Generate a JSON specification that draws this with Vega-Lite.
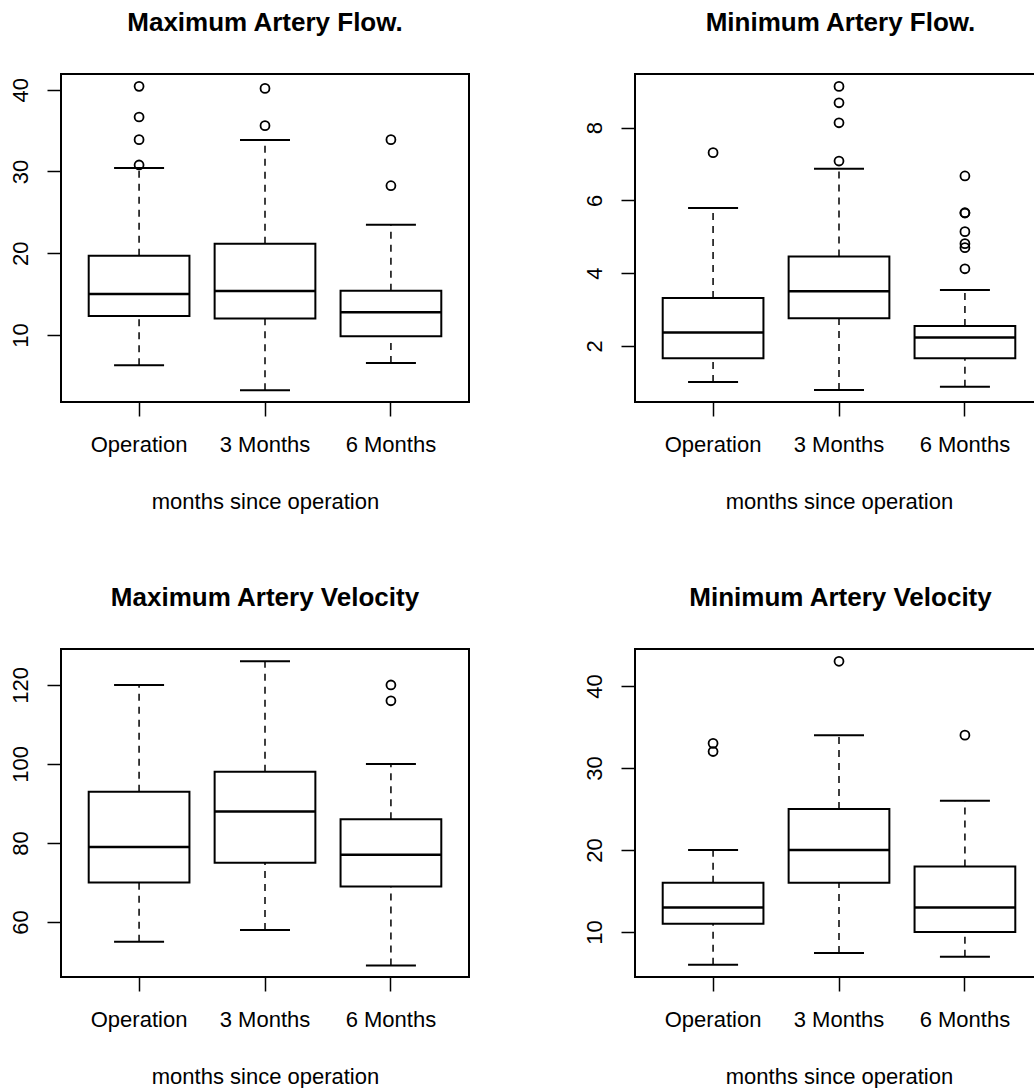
{
  "$schema": "https://vega.github.io/schema/vega-lite/v6.json",
  "background": "white",
  "padding": {"left": 8, "top": 9, "right": 0, "bottom": 0},
  "datasets": {
    "stats": [
      {"panel": "maxflow", "group": "Operation", "lo": 6.29, "q1": 12.32, "med": 15.0, "q3": 19.7, "hi": 30.42},
      {"panel": "maxflow", "group": "3 Months", "lo": 3.23, "q1": 12.0, "med": 15.38, "q3": 21.17, "hi": 33.84},
      {"panel": "maxflow", "group": "6 Months", "lo": 6.57, "q1": 9.83, "med": 12.77, "q3": 15.42, "hi": 23.49},
      {"panel": "minflow", "group": "Operation", "lo": 1.01, "q1": 1.66, "med": 2.37, "q3": 3.32, "hi": 5.79},
      {"panel": "minflow", "group": "3 Months", "lo": 0.79, "q1": 2.76, "med": 3.5, "q3": 4.46, "hi": 6.87},
      {"panel": "minflow", "group": "6 Months", "lo": 0.88, "q1": 1.66, "med": 2.23, "q3": 2.55, "hi": 3.54},
      {"panel": "maxvel", "group": "Operation", "lo": 55, "q1": 70, "med": 79, "q3": 93, "hi": 120},
      {"panel": "maxvel", "group": "3 Months", "lo": 58, "q1": 75, "med": 88, "q3": 98, "hi": 126},
      {"panel": "maxvel", "group": "6 Months", "lo": 49, "q1": 69, "med": 77, "q3": 86, "hi": 100},
      {"panel": "minvel", "group": "Operation", "lo": 6, "q1": 11, "med": 13, "q3": 16, "hi": 20},
      {"panel": "minvel", "group": "3 Months", "lo": 7.44, "q1": 16, "med": 20, "q3": 25, "hi": 34},
      {"panel": "minvel", "group": "6 Months", "lo": 7, "q1": 10, "med": 13, "q3": 18, "hi": 26}
    ],
    "outliers": [
      {"panel": "maxflow", "group": "Operation", "value": 40.41},
      {"panel": "maxflow", "group": "Operation", "value": 36.66},
      {"panel": "maxflow", "group": "Operation", "value": 33.89},
      {"panel": "maxflow", "group": "Operation", "value": 30.79},
      {"panel": "maxflow", "group": "3 Months", "value": 40.16},
      {"panel": "maxflow", "group": "3 Months", "value": 35.6},
      {"panel": "maxflow", "group": "6 Months", "value": 33.89},
      {"panel": "maxflow", "group": "6 Months", "value": 28.26},
      {"panel": "minflow", "group": "Operation", "value": 7.31},
      {"panel": "minflow", "group": "3 Months", "value": 9.13},
      {"panel": "minflow", "group": "3 Months", "value": 8.68},
      {"panel": "minflow", "group": "3 Months", "value": 8.13},
      {"panel": "minflow", "group": "3 Months", "value": 7.08},
      {"panel": "minflow", "group": "6 Months", "value": 6.67},
      {"panel": "minflow", "group": "6 Months", "value": 5.65},
      {"panel": "minflow", "group": "6 Months", "value": 5.66},
      {"panel": "minflow", "group": "6 Months", "value": 5.14},
      {"panel": "minflow", "group": "6 Months", "value": 4.81},
      {"panel": "minflow", "group": "6 Months", "value": 4.7},
      {"panel": "minflow", "group": "6 Months", "value": 4.12},
      {"panel": "maxvel", "group": "6 Months", "value": 120},
      {"panel": "maxvel", "group": "6 Months", "value": 116},
      {"panel": "minvel", "group": "Operation", "value": 33},
      {"panel": "minvel", "group": "Operation", "value": 32},
      {"panel": "minvel", "group": "3 Months", "value": 43},
      {"panel": "minvel", "group": "6 Months", "value": 34}
    ]
  },
  "columns": 2,
  "bounds": "flush",
  "spacing": {"row": 247, "column": 166},
  "concat": [
    {
      "title": {"text": "Maximum Artery Flow."},
      "width": 408, "height": 328,
      "encoding": {"x": {"field": "group", "type": "nominal", "sort": ["Operation", "3 Months", "6 Months"], "scale": {"paddingInner": 0, "paddingOuter": 0.12}, "axis": {"title": "months since operation"}}},
      "layer": [
        {"data": {"name": "stats"}, "transform": [{"filter": "datum.panel === 'maxflow'"}], "mark": {"type": "rule", "color": "black", "strokeWidth": 1.5, "strokeDash": [7, 6]}, "encoding": {"y": {"field": "lo", "type": "quantitative", "scale": {"domain": [1.8, 41.92], "nice": false, "zero": false}, "axis": {"title": null, "values": [10, 20, 30, 40]}}, "y2": {"field": "q1"}}},
        {"data": {"name": "stats"}, "transform": [{"filter": "datum.panel === 'maxflow'"}], "mark": {"type": "rule", "color": "black", "strokeWidth": 1.5, "strokeDash": [7, 6]}, "encoding": {"y": {"field": "q3", "type": "quantitative"}, "y2": {"field": "hi"}}},
        {"data": {"name": "stats"}, "transform": [{"filter": "datum.panel === 'maxflow'"}], "mark": {"type": "tick", "color": "black", "size": 50, "thickness": 2, "orient": "horizontal", "opacity": 1}, "encoding": {"y": {"field": "lo", "type": "quantitative"}}},
        {"data": {"name": "stats"}, "transform": [{"filter": "datum.panel === 'maxflow'"}], "mark": {"type": "tick", "color": "black", "size": 50, "thickness": 2, "orient": "horizontal", "opacity": 1}, "encoding": {"y": {"field": "hi", "type": "quantitative"}}},
        {"data": {"name": "stats"}, "transform": [{"filter": "datum.panel === 'maxflow'"}], "mark": {"type": "bar", "fill": "white", "stroke": "black", "strokeWidth": 2, "width": {"band": 0.8}}, "encoding": {"y": {"field": "q1", "type": "quantitative"}, "y2": {"field": "q3"}}},
        {"data": {"name": "stats"}, "transform": [{"filter": "datum.panel === 'maxflow'"}], "mark": {"type": "tick", "color": "black", "size": 101, "thickness": 2.5, "orient": "horizontal", "opacity": 1}, "encoding": {"y": {"field": "med", "type": "quantitative"}}},
        {"data": {"name": "outliers"}, "transform": [{"filter": "datum.panel === 'maxflow'"}], "mark": {"type": "point", "shape": "circle", "filled": false, "color": "black", "strokeWidth": 1.8, "size": 80, "opacity": 1}, "encoding": {"y": {"field": "value", "type": "quantitative"}}}
      ]
    },
    {
      "title": {"text": "Minimum Artery Flow.", "dx": 4},
      "width": 403, "height": 328,
      "encoding": {"x": {"field": "group", "type": "nominal", "sort": ["Operation", "3 Months", "6 Months"], "scale": {"paddingInner": 0, "paddingOuter": 0.12, "range": [0, 408]}, "axis": {"title": "months since operation", "titleX": 204}}},
      "layer": [
        {"data": {"name": "stats"}, "transform": [{"filter": "datum.panel === 'minflow'"}], "mark": {"type": "rule", "color": "black", "strokeWidth": 1.5, "strokeDash": [7, 6]}, "encoding": {"y": {"field": "lo", "type": "quantitative", "scale": {"domain": [0.46, 9.47], "nice": false, "zero": false}, "axis": {"title": null, "values": [2, 4, 6, 8]}}, "y2": {"field": "q1"}}},
        {"data": {"name": "stats"}, "transform": [{"filter": "datum.panel === 'minflow'"}], "mark": {"type": "rule", "color": "black", "strokeWidth": 1.5, "strokeDash": [7, 6]}, "encoding": {"y": {"field": "q3", "type": "quantitative"}, "y2": {"field": "hi"}}},
        {"data": {"name": "stats"}, "transform": [{"filter": "datum.panel === 'minflow'"}], "mark": {"type": "tick", "color": "black", "size": 50, "thickness": 2, "orient": "horizontal", "opacity": 1}, "encoding": {"y": {"field": "lo", "type": "quantitative"}}},
        {"data": {"name": "stats"}, "transform": [{"filter": "datum.panel === 'minflow'"}], "mark": {"type": "tick", "color": "black", "size": 50, "thickness": 2, "orient": "horizontal", "opacity": 1}, "encoding": {"y": {"field": "hi", "type": "quantitative"}}},
        {"data": {"name": "stats"}, "transform": [{"filter": "datum.panel === 'minflow'"}], "mark": {"type": "bar", "fill": "white", "stroke": "black", "strokeWidth": 2, "width": {"band": 0.8}}, "encoding": {"y": {"field": "q1", "type": "quantitative"}, "y2": {"field": "q3"}}},
        {"data": {"name": "stats"}, "transform": [{"filter": "datum.panel === 'minflow'"}], "mark": {"type": "tick", "color": "black", "size": 101, "thickness": 2.5, "orient": "horizontal", "opacity": 1}, "encoding": {"y": {"field": "med", "type": "quantitative"}}},
        {"data": {"name": "outliers"}, "transform": [{"filter": "datum.panel === 'minflow'"}], "mark": {"type": "point", "shape": "circle", "filled": false, "color": "black", "strokeWidth": 1.8, "size": 80, "opacity": 1}, "encoding": {"y": {"field": "value", "type": "quantitative"}}}
      ]
    },
    {
      "title": {"text": "Maximum Artery Velocity"},
      "width": 408, "height": 328,
      "encoding": {"x": {"field": "group", "type": "nominal", "sort": ["Operation", "3 Months", "6 Months"], "scale": {"paddingInner": 0, "paddingOuter": 0.12}, "axis": {"title": "months since operation"}}},
      "layer": [
        {"data": {"name": "stats"}, "transform": [{"filter": "datum.panel === 'maxvel'"}], "mark": {"type": "rule", "color": "black", "strokeWidth": 1.5, "strokeDash": [7, 6]}, "encoding": {"y": {"field": "lo", "type": "quantitative", "scale": {"domain": [46.08, 129.1], "nice": false, "zero": false}, "axis": {"title": null, "values": [60, 80, 100, 120]}}, "y2": {"field": "q1"}}},
        {"data": {"name": "stats"}, "transform": [{"filter": "datum.panel === 'maxvel'"}], "mark": {"type": "rule", "color": "black", "strokeWidth": 1.5, "strokeDash": [7, 6]}, "encoding": {"y": {"field": "q3", "type": "quantitative"}, "y2": {"field": "hi"}}},
        {"data": {"name": "stats"}, "transform": [{"filter": "datum.panel === 'maxvel'"}], "mark": {"type": "tick", "color": "black", "size": 50, "thickness": 2, "orient": "horizontal", "opacity": 1}, "encoding": {"y": {"field": "lo", "type": "quantitative"}}},
        {"data": {"name": "stats"}, "transform": [{"filter": "datum.panel === 'maxvel'"}], "mark": {"type": "tick", "color": "black", "size": 50, "thickness": 2, "orient": "horizontal", "opacity": 1}, "encoding": {"y": {"field": "hi", "type": "quantitative"}}},
        {"data": {"name": "stats"}, "transform": [{"filter": "datum.panel === 'maxvel'"}], "mark": {"type": "bar", "fill": "white", "stroke": "black", "strokeWidth": 2, "width": {"band": 0.8}}, "encoding": {"y": {"field": "q1", "type": "quantitative"}, "y2": {"field": "q3"}}},
        {"data": {"name": "stats"}, "transform": [{"filter": "datum.panel === 'maxvel'"}], "mark": {"type": "tick", "color": "black", "size": 101, "thickness": 2.5, "orient": "horizontal", "opacity": 1}, "encoding": {"y": {"field": "med", "type": "quantitative"}}},
        {"data": {"name": "outliers"}, "transform": [{"filter": "datum.panel === 'maxvel'"}], "mark": {"type": "point", "shape": "circle", "filled": false, "color": "black", "strokeWidth": 1.8, "size": 80, "opacity": 1}, "encoding": {"y": {"field": "value", "type": "quantitative"}}}
      ]
    },
    {
      "title": {"text": "Minimum Artery Velocity", "dx": 4},
      "width": 403, "height": 328,
      "encoding": {"x": {"field": "group", "type": "nominal", "sort": ["Operation", "3 Months", "6 Months"], "scale": {"paddingInner": 0, "paddingOuter": 0.12, "range": [0, 408]}, "axis": {"title": "months since operation", "titleX": 204}}},
      "layer": [
        {"data": {"name": "stats"}, "transform": [{"filter": "datum.panel === 'minvel'"}], "mark": {"type": "rule", "color": "black", "strokeWidth": 1.5, "strokeDash": [7, 6]}, "encoding": {"y": {"field": "lo", "type": "quantitative", "scale": {"domain": [4.52, 44.5], "nice": false, "zero": false}, "axis": {"title": null, "values": [10, 20, 30, 40]}}, "y2": {"field": "q1"}}},
        {"data": {"name": "stats"}, "transform": [{"filter": "datum.panel === 'minvel'"}], "mark": {"type": "rule", "color": "black", "strokeWidth": 1.5, "strokeDash": [7, 6]}, "encoding": {"y": {"field": "q3", "type": "quantitative"}, "y2": {"field": "hi"}}},
        {"data": {"name": "stats"}, "transform": [{"filter": "datum.panel === 'minvel'"}], "mark": {"type": "tick", "color": "black", "size": 50, "thickness": 2, "orient": "horizontal", "opacity": 1}, "encoding": {"y": {"field": "lo", "type": "quantitative"}}},
        {"data": {"name": "stats"}, "transform": [{"filter": "datum.panel === 'minvel'"}], "mark": {"type": "tick", "color": "black", "size": 50, "thickness": 2, "orient": "horizontal", "opacity": 1}, "encoding": {"y": {"field": "hi", "type": "quantitative"}}},
        {"data": {"name": "stats"}, "transform": [{"filter": "datum.panel === 'minvel'"}], "mark": {"type": "bar", "fill": "white", "stroke": "black", "strokeWidth": 2, "width": {"band": 0.8}}, "encoding": {"y": {"field": "q1", "type": "quantitative"}, "y2": {"field": "q3"}}},
        {"data": {"name": "stats"}, "transform": [{"filter": "datum.panel === 'minvel'"}], "mark": {"type": "tick", "color": "black", "size": 101, "thickness": 2.5, "orient": "horizontal", "opacity": 1}, "encoding": {"y": {"field": "med", "type": "quantitative"}}},
        {"data": {"name": "outliers"}, "transform": [{"filter": "datum.panel === 'minvel'"}], "mark": {"type": "point", "shape": "circle", "filled": false, "color": "black", "strokeWidth": 1.8, "size": 80, "opacity": 1}, "encoding": {"y": {"field": "value", "type": "quantitative"}}}
      ]
    }
  ],
  "config": {
    "font": "Liberation Sans",
    "view": {"stroke": "black", "strokeWidth": 2},
    "axis": {"grid": false, "domain": false, "tickColor": "black", "tickSize": 14, "tickWidth": 1.5, "labelColor": "black", "labelFontSize": 22, "labelFont": "Liberation Sans", "titleFontSize": 22, "titleFont": "Liberation Sans", "titleFontWeight": "normal", "titleColor": "black", "labelOverlap": false},
    "axisX": {"labelAngle": 0, "labelBaseline": "alphabetic", "labelPadding": 35, "titleBaseline": "alphabetic", "titleY": 106},
    "axisY": {"labelAngle": -90, "labelAlign": "center", "labelBaseline": "alphabetic", "labelPadding": 20},
    "title": {"fontSize": 26, "fontWeight": "bold", "color": "black", "font": "Liberation Sans", "offset": 38, "baseline": "alphabetic", "frame": "group", "anchor": "middle"}
  }
}
